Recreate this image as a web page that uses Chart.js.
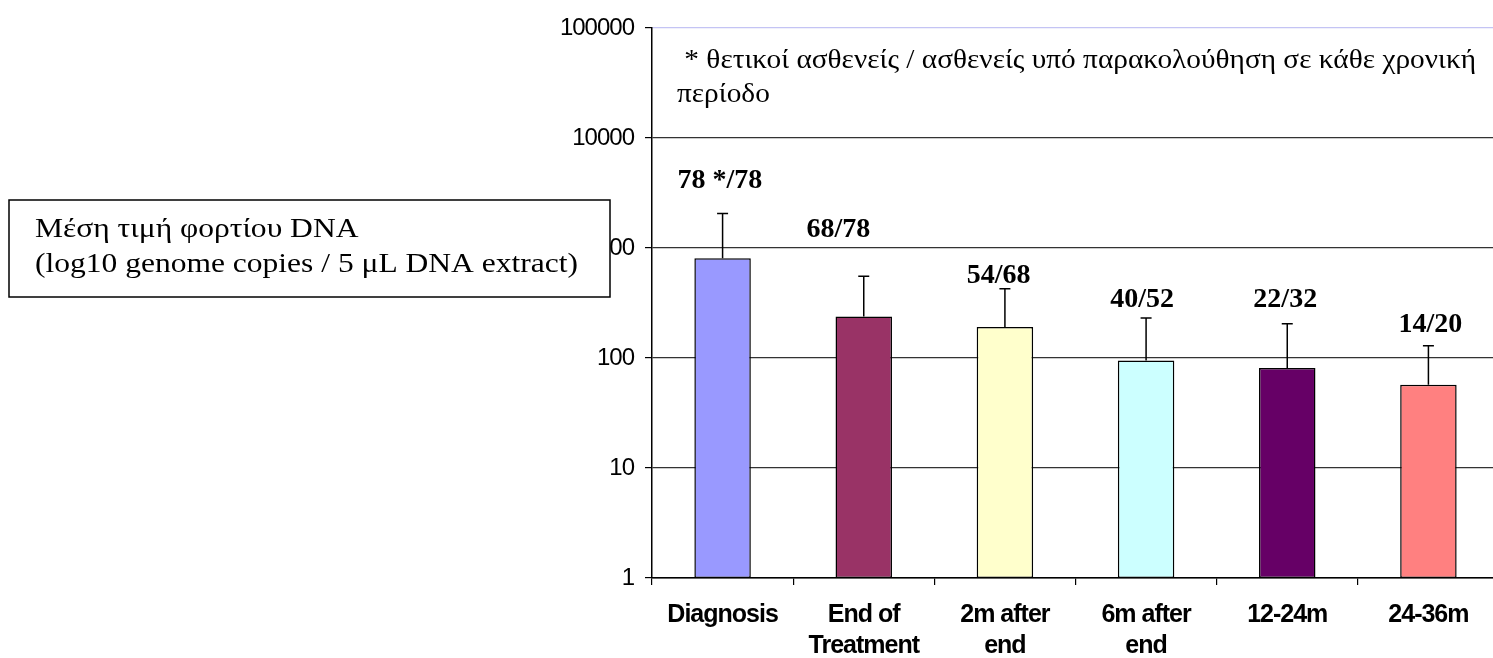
<!DOCTYPE html>
<html>
<head>
<meta charset="utf-8">
<script src="https://cdn.jsdelivr.net/npm/chart.js@4/dist/chart.umd.min.js"></script>
<style>
  html, body { margin: 0; padding: 0; background: #fff; overflow: hidden; }
  #wrap { position: relative; width: 1520px; height: 658px; }
</style>
</head>
<body>
<div id="wrap"><canvas id="c" width="1520" height="658"></canvas></div>
<script>
// ---- data ----
const categories = ['Diagnosis', ['End of', 'Treatment'], ['2m after', 'end'], ['6m after', 'end'], '12-24m', '24-36m'];
const meanLoad = [805, 239, 191, 95, 81, 57];
const errorUpper = [2060, 553, 426, 231, 205, 129];
const positiveLabels = ['78 */78', '68/78', '54/68', '40/52', '22/32', '14/20'];
const yTicks = [1, 10, 100, 1000, 10000, 100000];
const noteLines = [' * θετικοί ασθενείς / ασθενείς υπό παρακολούθηση σε κάθε χρονική', 'περίοδο'];
const boxLines = ['Μέση τιμή φορτίου DNA', '(log10 genome copies / 5 μL DNA extract)'];

const barColors = ['#9999FF', '#993366', '#FFFFCC', '#CCFFFF', '#660066', '#FF8080'];

function stretchText(ctx, text, x, y, sx) {
  ctx.save();
  ctx.translate(x, y);
  ctx.scale(sx, 1);
  ctx.fillText(text, 0, 0);
  ctx.restore();
}

const overlayPlugin = {
  id: 'overlay',
  beforeUpdate(chart) {
    chart.ctx.letterSpacing = '-1px';
  },
  beforeDraw(chart) {
    chart.ctx.letterSpacing = '-1px';
  },
  afterDatasetsDraw(chart, args, opts) {
    const ctx = chart.ctx;
    const y = chart.scales.y;
    const meta = chart.getDatasetMeta(0);
    ctx.save();
    ctx.letterSpacing = '0px';
    ctx.strokeStyle = '#000';
    ctx.lineWidth = 1.5;
    meta.data.forEach((bar, i) => {
      const yTop = y.getPixelForValue(errorUpper[i]);
      ctx.beginPath();
      ctx.moveTo(bar.x, bar.y);
      ctx.lineTo(bar.x, yTop);
      ctx.moveTo(bar.x - 5.5, yTop);
      ctx.lineTo(bar.x + 5.5, yTop);
      ctx.stroke();
      ctx.fillStyle = '#000';
      ctx.font = 'bold 28px "Liberation Serif", "Times New Roman", serif';
      ctx.textAlign = 'center';
      ctx.textBaseline = 'alphabetic';
      ctx.fillText(positiveLabels[i], bar.x + opts.dx[i], yTop - opts.gap[i]);
    });
    ctx.restore();
  },
  afterDraw(chart, args, opts) {
    const ctx = chart.ctx;
    const area = chart.chartArea;
    ctx.save();
    ctx.letterSpacing = '0px';
    ctx.fillStyle = '#000';
    ctx.textAlign = 'left';
    ctx.textBaseline = 'alphabetic';
    // note text
    ctx.font = '27px "Liberation Serif", "Times New Roman", serif';
    const sxNote = opts.noteWidth / ctx.measureText(noteLines[0]).width;
    stretchText(ctx, noteLines[0], area.left + 25, 68, sxNote);
    stretchText(ctx, noteLines[1], area.left + 25, 101.5, sxNote);
    // box
    ctx.fillStyle = '#fff';
    ctx.fillRect(9, 200, 601, 97);
    ctx.strokeStyle = '#000';
    ctx.lineWidth = 1.5;
    ctx.strokeRect(9, 200, 601, 97);
    ctx.fillStyle = '#000';
    ctx.font = '28px "Liberation Serif", "Times New Roman", serif';
    const sxBox = opts.boxWidth / ctx.measureText(boxLines[1]).width;
    stretchText(ctx, boxLines[0], 35, 237, sxBox);
    stretchText(ctx, boxLines[1], 35, 272, sxBox);
    ctx.restore();
  }
};

new Chart(document.getElementById('c'), {
  type: 'bar',
  data: {
    labels: categories,
    datasets: [{
      data: meanLoad,
      backgroundColor: barColors,
      borderColor: '#000',
      borderWidth: 1.5,
      borderSkipped: false,
      barPercentage: 0.4,
      categoryPercentage: 1.0
    }]
  },
  options: {
    responsive: false,
    animation: false,
    layout: { padding: { left: 0, top: 28, right: 21, bottom: 0 } },
    plugins: {
      legend: { display: false },
      tooltip: { enabled: false },
      title: { display: false },
      overlay: {
        dx: [-2.6, -25.3, -6.2, -4, -2, 2],
        gap: [25, 39.6, 5.4, 10.7, 17, 14],
        noteWidth: 799,
        boxWidth: 543
      }
    },
    scales: {
      x: {
        type: 'category',
        offset: true,
        grid: {
          display: true,
          drawOnChartArea: false,
          offset: true,
          tickLength: 7,
          tickColor: '#000',
          lineWidth: 1.2
        },
        border: { display: true, color: '#000', width: 1.5 },
        ticks: {
          color: '#000',
          padding: 15,
          maxRotation: 0,
          autoSkip: false,
          font: { family: '"Liberation Sans", Arial, sans-serif', size: 25, weight: 'bold', lineHeight: 1.24 }
        },
        afterFit(scale) { scale.height = 80; }
      },
      y: {
        type: 'logarithmic',
        min: 1,
        max: 100000,
        afterBuildTicks(scale) { scale.ticks = yTicks.map(v => ({ value: v })); },
        grid: {
          color: (c) => (c.tick && c.tick.value === 100000) ? '#c4c4f4' : '#333',
          lineWidth: 1.2,
          tickLength: 7,
          tickColor: '#000'
        },
        border: { display: true, color: '#000', width: 1.5 },
        ticks: {
          color: '#000',
          padding: 11,
          font: { family: '"Liberation Sans", Arial, sans-serif', size: 24 },
          callback: (v) => String(v)
        },
        afterFit(scale) { scale.width = 652; }
      }
    }
  },
  plugins: [overlayPlugin]
});
</script>
</body>
</html>
